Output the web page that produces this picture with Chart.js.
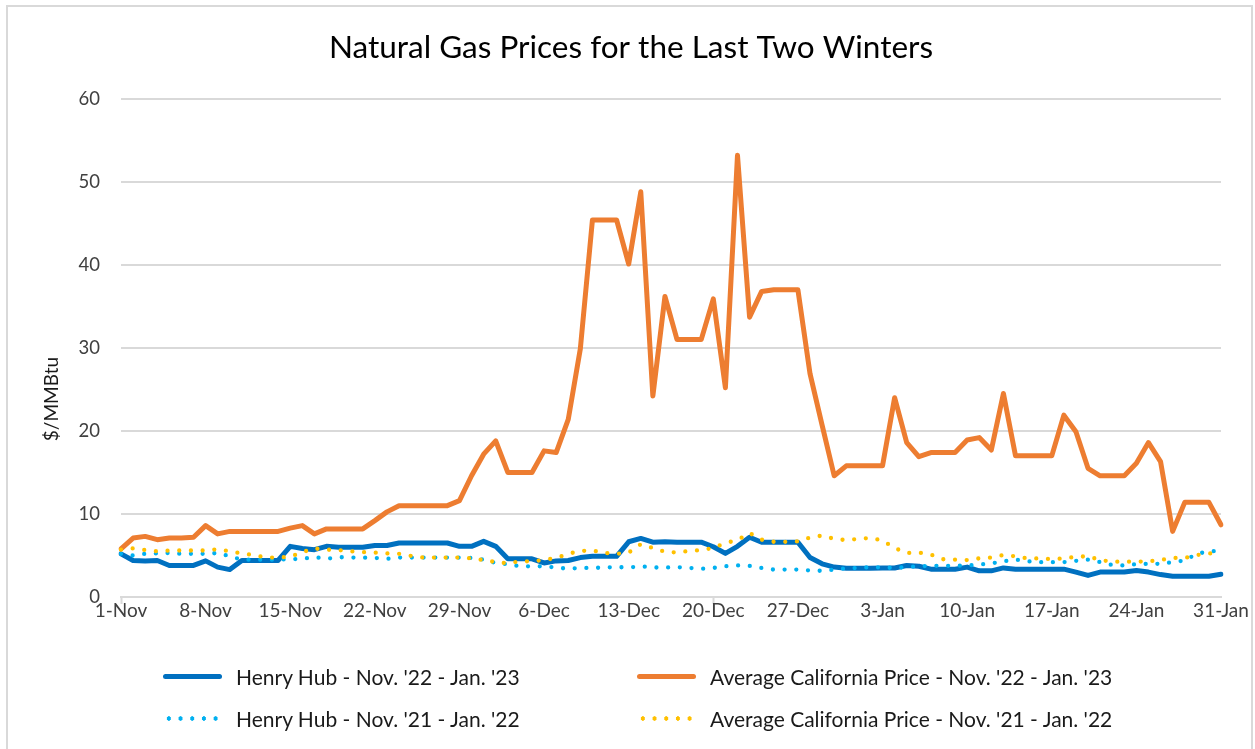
<!DOCTYPE html>
<html>
<head>
<meta charset="utf-8">
<script src="https://cdn.jsdelivr.net/npm/chart.js@4.4.1/dist/chart.umd.min.js"></script>
<style>
  body { margin: 0; background: #fff; overflow: hidden; font-family: Lato, sans-serif; }
  #wrap { position: relative; width: 1255px; height: 749px; }
  #frame { position: absolute; left: 6px; top: 5px; width: 1247px; height: 800px; border: 2px solid #d9d9d9; box-sizing: border-box; pointer-events: none; }
  canvas { position: absolute; left: 0; top: 0; }
  .leg { position: absolute; display: flex; align-items: center; font-size: 21px; color: #1a1a1a; white-space: nowrap; }
  .leg .smp { width: 59px; height: 5px; margin-right: 14px; border-radius: 3px; }
</style>
</head>
<body>
<div id="wrap">
  <canvas id="mycanvas" width="1255" height="749"></canvas>
  <div id="frame"></div>
  <div id="legend"></div>
</div>
<script>
// daily categories, 1-Nov .. 31-Jan
var months = [['Nov', 30], ['Dec', 31], ['Jan', 31]];
var days = [];
for (var m = 0; m < months.length; m++) {
	for (var d = 1; d <= months[m][1]; d++) days.push(d + '-' + months[m][0]);
}

var yTicks = [0, 10, 20, 30, 40, 50, 60];

// Henry Hub - Nov. '22 - Jan. '23
var hh2223 = [5.2, 4.4, 4.35, 4.4, 3.8, 3.8, 3.8, 4.35, 3.6, 3.3,
	4.4, 4.4, 4.4, 4.4, 6.1, 5.85, 5.7, 6.1, 6.0, 6.0,
	6.0, 6.2, 6.2, 6.5, 6.5, 6.5, 6.5, 6.5, 6.1, 6.1,
	6.7, 6.1, 4.6, 4.6, 4.6, 4.1, 4.35, 4.4, 4.75, 4.9,
	4.9, 4.9, 6.65, 7.05, 6.6, 6.65, 6.6, 6.6, 6.6, 6.05,
	5.25, 6.1, 7.2, 6.6, 6.6, 6.6, 6.6, 4.75, 4.0, 3.6,
	3.45, 3.45, 3.45, 3.5, 3.5, 3.8, 3.7, 3.35, 3.35, 3.35,
	3.6, 3.15, 3.15, 3.5, 3.35, 3.35, 3.35, 3.35, 3.35, 3.0,
	2.6, 3.0, 3.0, 3.0, 3.2, 3.0, 2.7, 2.5, 2.5, 2.5,
	2.5, 2.75];

// Average California Price - Nov. '22 - Jan. '23
var cal2223 = [5.8, 7.1, 7.3, 6.9, 7.1, 7.1, 7.2, 8.6, 7.6, 7.9,
	7.9, 7.9, 7.9, 7.9, 8.3, 8.6, 7.6, 8.2, 8.2, 8.2,
	8.2, 9.2, 10.25, 11.0, 11.0, 11.0, 11.0, 11.0, 11.6, 14.6,
	17.2, 18.8, 15.0, 15.0, 15.0, 17.6, 17.4, 21.4, 29.9, 45.4,
	45.4, 45.4, 40.1, 48.8, 24.2, 36.2, 31.0, 31.0, 31.0, 35.9,
	25.2, 53.2, 33.7, 36.8, 37.0, 37.0, 37.0, 26.9, 20.7, 14.6,
	15.8, 15.8, 15.8, 15.8, 24.0, 18.6, 16.9, 17.4, 17.4, 17.4,
	18.9, 19.2, 17.7, 24.5, 17.0, 17.0, 17.0, 17.0, 21.9, 19.9,
	15.5, 14.6, 14.6, 14.6, 16.1, 18.6, 16.3, 7.9, 11.4, 11.4,
	11.4, 8.7];

// Henry Hub - Nov. '21 - Jan. '22
var hh2122 = [5.2, 5.0, 5.2, 5.25, 5.3, 5.2, 5.2, 5.2, 5.3, 4.9,
	4.5, 4.5, 4.5, 4.5, 4.55, 4.6, 4.8, 4.6, 4.8, 4.75,
	4.75, 4.7, 4.6, 4.75, 4.75, 4.75, 4.75, 4.75, 4.75, 4.7,
	4.5, 4.1, 3.95, 3.7, 3.7, 3.7, 3.55, 3.4, 3.5, 3.5,
	3.55, 3.6, 3.55, 3.7, 3.55, 3.55, 3.6, 3.5, 3.4, 3.5,
	3.7, 3.8, 3.75, 3.5, 3.3, 3.3, 3.3, 3.2, 3.15, 3.3,
	3.45, 3.5, 3.6, 3.55, 3.5, 3.6, 3.7, 3.75, 3.75, 3.75,
	3.8, 3.9, 4.05, 4.3, 4.5, 4.3, 4.2, 4.2, 4.2, 4.35,
	4.5, 4.2, 3.85, 3.8, 3.95, 4.0, 4.0, 4.2, 4.4, 5.2,
	5.5, 5.55];

// Average California Price - Nov. '21 - Jan. '22
var cal2122 = [5.7, 5.85, 5.65, 5.5, 5.6, 5.6, 5.6, 5.6, 5.75, 5.5,
	5.25, 5.05, 4.75, 4.75, 4.85, 5.4, 5.85, 5.7, 5.65, 5.5,
	5.4, 5.35, 5.25, 5.2, 4.95, 4.75, 4.75, 4.75, 4.75, 4.65,
	4.45, 4.2, 4.05, 4.3, 4.3, 4.45, 4.7, 5.2, 5.55, 5.6,
	5.3, 5.2, 5.35, 6.35, 5.9, 5.45, 5.35, 5.55, 5.65, 5.9,
	6.5, 6.85, 7.7, 6.9, 6.65, 6.65, 6.7, 7.15, 7.4, 7.0,
	6.85, 7.0, 7.1, 6.8, 5.9, 5.3, 5.35, 5.1, 4.55, 4.5,
	4.45, 4.65, 4.75, 5.05, 4.9, 4.65, 4.65, 4.55, 4.65, 4.85,
	4.9, 4.45, 4.25, 4.25, 4.25, 4.3, 4.45, 4.7, 4.7, 5.05,
	5.25, 5.25];

var seriesNames = [
	"Henry Hub - Nov. '22 - Jan. '23",
	"Average California Price - Nov. '22 - Jan. '23",
	"Henry Hub - Nov. '21 - Jan. '22",
	"Average California Price - Nov. '21 - Jan. '22"
];
var seriesColors = ['#0070C0', '#ED7D31', '#00B0F0', '#FFC000'];

var fontFamily = 'Lato, "Liberation Sans", sans-serif';
var gridColor = '#d9d9d9';

function solid(i, data, order) {
	return {
		label: seriesNames[i], data: data, order: order,
		borderColor: seriesColors[i], backgroundColor: seriesColors[i],
		borderWidth: 5, borderJoinStyle: 'round', borderCapStyle: 'round',
		pointRadius: 0, tension: 0, dotted: false
	};
}
function dotted(i, data, order) {
	return {
		label: seriesNames[i], data: data, order: order,
		borderColor: seriesColors[i], backgroundColor: seriesColors[i],
		borderWidth: 4.3, borderDash: [0, 11.7], borderCapStyle: 'round', borderJoinStyle: 'round',
		pointRadius: 0, tension: 0, dotted: true
	};
}

var yTitle = {
	id: 'yTitle',
	afterDraw: function(chart) {
		var ctx = chart.ctx;
		ctx.save();
		ctx.translate(52, 399);
		ctx.rotate(-Math.PI / 2);
		ctx.font = '19px ' + fontFamily;
		ctx.fillStyle = '#1a1a1a';
		ctx.textAlign = 'center';
		ctx.textBaseline = 'middle';
		ctx.fillText('$/MMBtu', 0, 0);
		ctx.restore();
	}
};

var ctx = document.getElementById('mycanvas');
var chart = new Chart(ctx, {
	type: 'line',
	data: {
		labels: days,
		datasets: [
			solid(0, hh2223, 4),
			solid(1, cal2223, 3),
			dotted(2, hh2122, 2),
			dotted(3, cal2122, 1)
		]
	},
	options: {
		responsive: false,
		animation: false,
		layout: { padding: { left: 41, right: 34, top: 0, bottom: 122 } },
		plugins: {
			legend: { display: false },
			tooltip: { enabled: false },
			title: {
				display: true,
				text: 'Natural Gas Prices for the Last Two Winters',
				color: '#000',
				font: { family: fontFamily, size: 31.5, weight: 'normal' },
				padding: { top: 29, bottom: 32 }
			}
		},
		scales: {
			x: {
				offset: false,
				afterFit: function(scale) { scale.height = 30; },
				border: { display: true, color: gridColor, width: 2 },
				grid: {
					drawOnChartArea: false,
					drawTicks: true,
					tickLength: 7,
					tickWidth: 2,
					tickColor: function(c) { return c.index % 7 === 0 ? gridColor : 'rgba(0,0,0,0)'; }
				},
				ticks: {
					autoSkip: false,
					maxRotation: 0,
					padding: -5,
					color: '#404040',
					font: { family: fontFamily, size: 19 },
					callback: function(v, i) { return i % 7 === 0 ? days[i] : null; }
				}
			},
			y: {
				min: 0,
				max: 60,
				afterFit: function(scale) { scale.width = 80; },
				afterBuildTicks: function(scale) { scale.ticks = yTicks.map(function(v) { return { value: v }; }); },
				border: { display: false },
				grid: { color: gridColor, lineWidth: 2, drawTicks: false },
				ticks: {
					padding: 21,
					color: '#404040',
					font: { family: fontFamily, size: 18.5 }
				}
			}
		}
	},
	plugins: [yTitle]
});

// legend, two columns under the plot
var legPos = [[163, 676], [637, 676], [163, 718], [637, 718]];
var legend = document.getElementById('legend');
chart.data.datasets.forEach(function(ds, i) {
	var item = document.createElement('div');
	item.className = 'leg';
	item.style.left = legPos[i][0] + 'px';
	item.style.top = (legPos[i][1] - 13) + 'px';
	item.style.height = '26px';
	var smp = document.createElement('span');
	smp.className = 'smp';
	if (ds.dotted) {
		smp.style.background = 'radial-gradient(circle, ' + ds.borderColor + ' 2px, rgba(255,255,255,0) 2.4px) 0 0 / 11.7px 5px repeat-x';
	} else {
		smp.style.background = ds.borderColor;
	}
	var txt = document.createElement('span');
	txt.textContent = ds.label;
	item.appendChild(smp);
	item.appendChild(txt);
	legend.appendChild(item);
});
</script>
</body>
</html>
